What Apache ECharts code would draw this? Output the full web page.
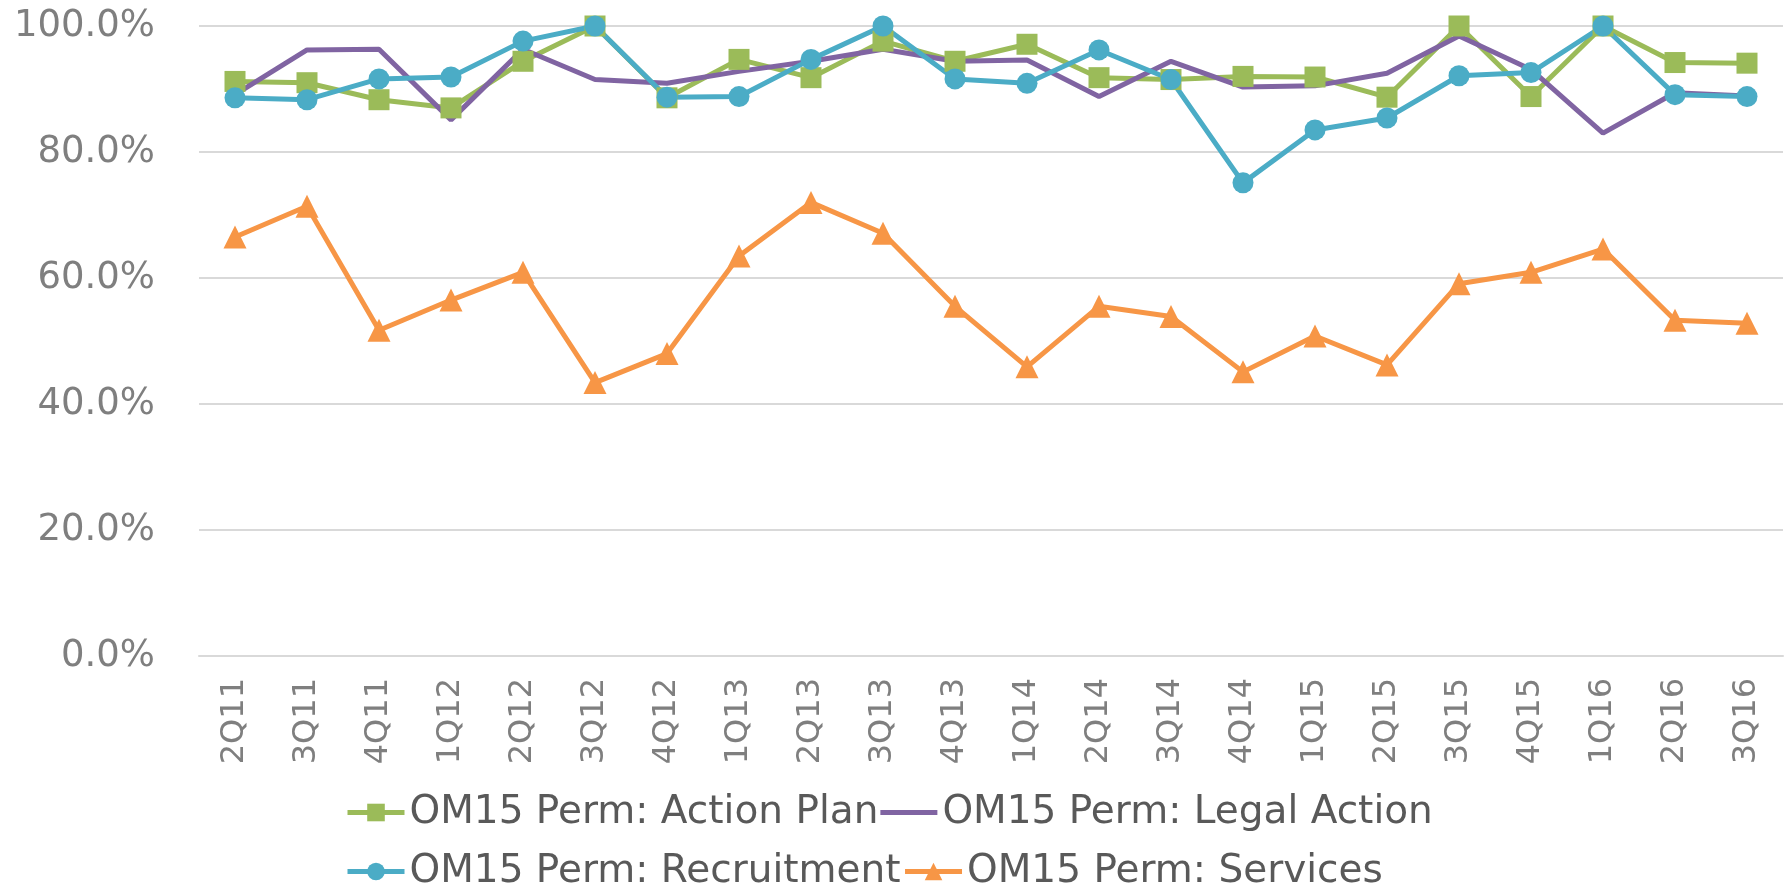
<!DOCTYPE html>
<html>
<head>
<meta charset="utf-8" />
<title>OM15 Perm</title>
<script src="https://cdn.jsdelivr.net/npm/echarts@6/dist/echarts.min.js"></script>
<style>
  html, body { margin: 0; padding: 0; background: #fff; }
  #main { width: 1787px; height: 885px; }
</style>
</head>
<body>
<div id="main"></div>
<script type="text/javascript">
// quarters on the x axis
var quarters = ['2Q11', '3Q11', '4Q11', '1Q12', '2Q12', '3Q12', '4Q12', '1Q13', '2Q13', '3Q13', '4Q13',
  '1Q14', '2Q14', '3Q14', '4Q14', '1Q15', '2Q15', '3Q15', '4Q15', '1Q16', '2Q16', '3Q16'];

// values in percent
var actionPlan = [91.2, 91.0, 88.3, 87.0, 94.4, 100, 88.6, 94.7, 91.8, 97.6, 94.4,
  97.1, 91.8, 91.5, 92.0, 91.9, 88.7, 100, 88.8, 100, 94.2, 94.1];
var legalAction = [89.1, 96.2, 96.3, 85.1, 96.3, 91.5, 90.9, 92.8, 94.4, 96.3, 94.4,
  94.6, 88.8, 94.4, 90.3, 90.5, 92.5, 98.4, 93.1, 83.0, 89.4, 88.9];
var recruitment = [88.6, 88.3, 91.6, 91.9, 97.6, 100, 88.7, 88.8, 94.7, 100, 91.6,
  90.9, 96.2, 91.5, 75.1, 83.5, 85.4, 92.1, 92.6, 100, 89.1, 88.8];
var services = [66.5, 71.4, 51.7, 56.5, 60.9, 43.4, 48.0, 63.5, 72.0, 67.1, 55.5,
  45.9, 55.5, 53.9, 45.1, 50.8, 46.2, 59.1, 60.9, 64.6, 53.3, 52.8];

var yTicks = [0, 20, 40, 60, 80, 100];

var chart = echarts.init(document.getElementById('main'));

var legendText = { fontFamily: 'DejaVu Sans', fontSize: 39, color: '#595959' };
// plain bar for the series without markers
var lineIcon = 'path://M0,0L57,0L57,5L0,5Z';

var option = {
  backgroundColor: '#ffffff',
  animation: false,
  grid: { left: 199, right: 4, top: 26, bottom: 229 },
  legend: [{
    left: 340, top: 788,
    itemWidth: 57, itemHeight: 22, itemGap: 2,
    lineStyle: { width: 5 },
    textStyle: legendText,
    data: ['OM15 Perm: Action Plan', { name: 'OM15 Perm: Legal Action', icon: lineIcon }]
  }, {
    left: 340, top: 847,
    itemWidth: 57, itemHeight: 22, itemGap: 2,
    lineStyle: { width: 5 },
    textStyle: legendText,
    data: ['OM15 Perm: Recruitment', 'OM15 Perm: Services']
  }],
  xAxis: {
    type: 'category',
    data: quarters,
    boundaryGap: true,
    axisLine: { lineStyle: { color: '#d9d9d9', width: 2 } },
    axisTick: { show: false },
    axisLabel: {
      rotate: 90, margin: 22,
      fontFamily: 'DejaVu Sans', fontSize: 32, color: '#7f7f7f'
    }
  },
  yAxis: {
    type: 'value',
    min: yTicks[0], max: yTicks[yTicks.length - 1], interval: 20,
    axisLine: { show: false },
    axisTick: { show: false },
    splitLine: { lineStyle: { color: '#d9d9d9', width: 2 } },
    axisLabel: {
      margin: 44,
      fontFamily: 'DejaVu Sans', fontSize: 37, color: '#7f7f7f',
      formatter: function (v) { return v.toFixed(1) + '%'; }
    }
  },
  series: [{
    name: 'OM15 Perm: Action Plan', type: 'line', data: actionPlan,
    symbol: 'rect', symbolSize: 21,
    lineStyle: { width: 5, color: '#9bbb59' },
    itemStyle: { color: '#9bbb59' }
  }, {
    name: 'OM15 Perm: Legal Action', type: 'line', data: legalAction,
    symbol: 'none',
    lineStyle: { width: 5, color: '#8064a2' },
    itemStyle: { color: '#8064a2' }
  }, {
    name: 'OM15 Perm: Recruitment', type: 'line', data: recruitment,
    symbol: 'circle', symbolSize: 21,
    lineStyle: { width: 5, color: '#4bacc6' },
    itemStyle: { color: '#4bacc6' }
  }, {
    name: 'OM15 Perm: Services', type: 'line', data: services,
    symbol: 'triangle', symbolSize: 23,
    lineStyle: { width: 5, color: '#f79646' },
    itemStyle: { color: '#f79646' }
  }]
};

chart.setOption(option);
</script>
</body>
</html>
